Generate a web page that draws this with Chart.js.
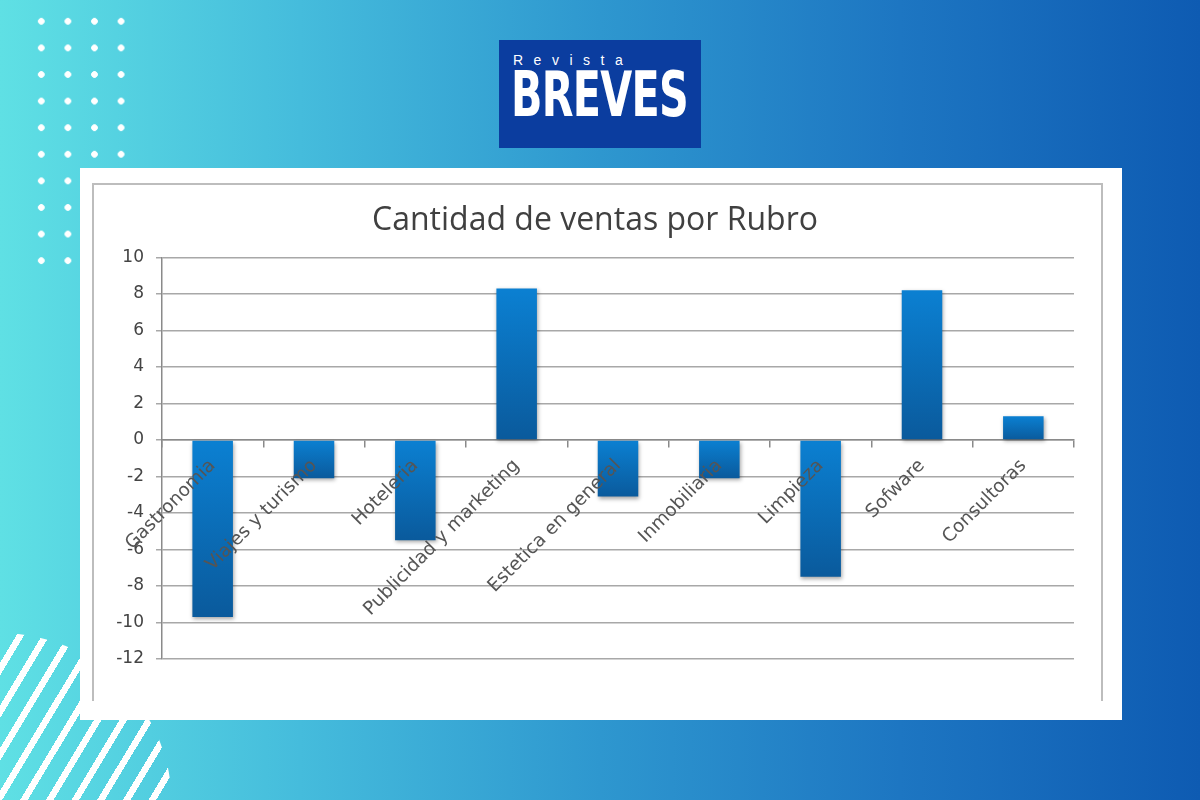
<!DOCTYPE html>
<html lang="es">
<head>
  <meta charset="UTF-8">
  <title>Cantidad de ventas por Rubro</title>
  <script src="https://cdn.jsdelivr.net/npm/chart.js"></script>
  <style>
    html, body {
      margin: 0;
      padding: 0;
    }

    body {
      width: 1200px;
      height: 800px;
      overflow: hidden;
      position: relative;
      background: linear-gradient(90deg, #5fe0e4 0%, #45bcdc 25%, #2e97cf 50%, #1d76c2 75%, #0e5bb2 100%);
      font-family: "Liberation Sans", Arial, sans-serif;
    }

    .dots {
      position: absolute;
      left: 28px;
      top: 8px;
      width: 107px;
      height: 266px;
      background-image: radial-gradient(circle, #ffffff 3px, transparent 3.6px);
      background-size: 26.6px 26.6px;
    }

    .stripes {
      position: absolute;
      left: 0;
      top: 620px;
      width: 200px;
      height: 180px;
      background: repeating-linear-gradient(121deg, #ffffff 0 6.5px, transparent 6.5px 22px);
      clip-path: circle(172px at 0 185px);
    }

    .logo {
      position: absolute;
      left: 499px;
      top: 40px;
      width: 202px;
      height: 108px;
      background-color: #0b3d9f;
      color: #fff;
    }

    .logo .small {
      position: absolute;
      left: 14px;
      top: 12px;
      font-size: 14px;
      letter-spacing: 10.5px;
    }

    .logo .big {
      position: absolute;
      left: 12px;
      top: 24px;
      font-family: "DejaVu Sans Condensed", "DejaVu Sans", sans-serif;
      font-weight: bold;
      font-size: 62px;
      line-height: 1;
      transform: scaleX(0.74);
      transform-origin: left top;
      letter-spacing: -1px;
    }

    .panel {
      position: absolute;
      left: 80px;
      top: 168px;
      width: 1042px;
      height: 552px;
      background-color: #ffffff;
    }

    .frame {
      position: absolute;
      left: 92px;
      top: 183px;
      width: 1007px;
      height: 516px;
      border-top: 2px solid #bdbdbd;
      border-left: 2px solid #bdbdbd;
      border-right: 2px solid #bdbdbd;
    }

    .chart-box {
      position: absolute;
      left: 0;
      top: 0;
      width: 1007px;
      height: 516px;
    }
  </style>
</head>
<body>

  <div class="dots"></div>
  <div class="stripes"></div>

  <div class="logo">
    <div class="small">Revista</div>
    <div class="big">BREVES</div>
  </div>

  <div class="panel"></div>
  <div class="frame">
    <div class="chart-box"><canvas id="ventasChart"></canvas></div>
  </div>

<script>
const rubros = [
  'Gastronomia',
  'Viajes y turismo',
  'Hoteleria',
  'Publicidad y marketing',
  'Estetica en general',
  'Inmobiliaria',
  'Limpieza',
  'Sofware',
  'Consultoras'
];
const ventas = [-9.7, -2.1, -5.5, 8.3, -3.1, -2.1, -7.5, 8.2, 1.3];

const yMin = -12;
const yMax = 10;
const yStep = 2;

function barFill(context) {
  const chart = context.chart;
  const { chartArea, scales } = chart;
  if (!chartArea || !scales.y) return '#0a72c0';
  const y0 = scales.y.getPixelForValue(0);
  const y1 = scales.y.getPixelForValue(context.raw);
  const top = Math.min(y0, y1);
  const bottom = Math.max(y0, y1) || top + 1;
  const g = chart.ctx.createLinearGradient(0, top, 0, bottom);
  g.addColorStop(0, '#0b80d2');
  g.addColorStop(1, '#0a5a9c');
  return g;
}

// soft shadow under the bars
const barShadow = {
  id: 'barShadow',
  beforeDatasetsDraw(chart) {
    const ctx = chart.ctx;
    ctx.save();
    ctx.shadowColor = 'rgba(0, 0, 0, 0.35)';
    ctx.shadowBlur = 4;
    ctx.shadowOffsetX = 1;
    ctx.shadowOffsetY = 2;
  },
  afterDatasetsDraw(chart) {
    chart.ctx.restore();
  }
};

const ctx = document.getElementById('ventasChart').getContext('2d');

new Chart(ctx, {
  type: 'bar',
  data: {
    labels: rubros,
    datasets: [{
      label: 'Cantidad de ventas',
      data: ventas,
      backgroundColor: barFill,
      borderWidth: 0,
      barPercentage: 0.4,
      categoryPercentage: 1
    }]
  },
  plugins: [barShadow],
  options: {
    responsive: true,
    maintainAspectRatio: false,
    animation: false,
    layout: {
      padding: { left: 22, right: 27, top: 0, bottom: 42 }
    },
    plugins: {
      legend: { display: false },
      tooltip: { enabled: false },
      title: {
        display: true,
        text: 'Cantidad de ventas por Rubro',
        color: '#404040',
        font: { family: 'Open Sans', size: 32, weight: 'normal' },
        padding: { top: 17, bottom: 17 }
      }
    },
    scales: {
      x: {
        position: { y: 0 },
        afterFit(scale) { scale.height = 0; },
        grid: {
          offset: true,
          drawOnChartArea: false,
          drawTicks: true,
          tickLength: 7,
          color: '#8a8a8a',
          lineWidth: 1.5
        },
        border: { display: true, color: '#8a8a8a', width: 1.5 },
        ticks: {
          z: 1,
          autoSkip: false,
          minRotation: 45,
          maxRotation: 45,
          padding: 8,
          color: '#555555',
          font: { family: 'DejaVu Sans', size: 18.5 }
        }
      },
      y: {
        min: yMin,
        max: yMax,
        afterFit(scale) { scale.width = 46; },
        ticks: {
          stepSize: yStep,
          padding: 12,
          color: '#444444',
          font: { family: 'DejaVu Sans', size: 17 }
        },
        grid: {
          color: '#a8a8a8',
          lineWidth: 1.5,
          tickLength: 6
        },
        border: { display: true, color: '#8a8a8a', width: 1.5 }
      }
    }
  }
});
</script>

</body>
</html>
